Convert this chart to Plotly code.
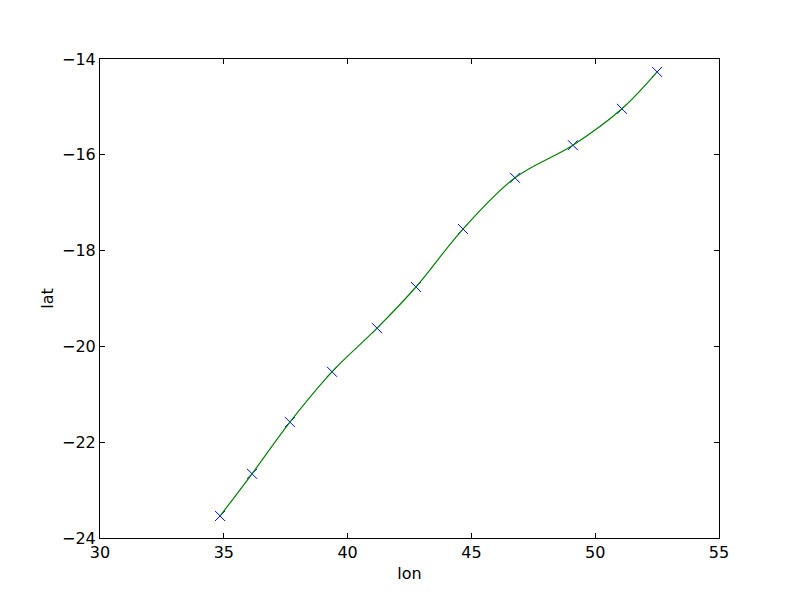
import plotly.graph_objects as go

lon = [34.85, 36.14, 37.67, 39.37, 41.19, 42.76, 44.66, 46.76, 49.10, 51.08, 52.50]
lat = [-23.54, -22.66, -21.58, -20.53, -19.62, -18.76, -17.55, -16.48, -15.80, -15.04, -14.27]
x_ticks = [30, 35, 40, 45, 50, 55]
y_ticks = [-24, -22, -20, -18, -16, -14]

fig = go.Figure()
fig.add_trace(go.Scatter(x=lon, y=lat, mode="markers",
                         marker=dict(symbol="x-thin", size=10, line=dict(color="#0000ff", width=1)),
                         showlegend=False))
fig.add_trace(go.Scatter(x=lon, y=lat, mode="lines", line=dict(color="#008000", width=1.2, shape="spline", smoothing=1.0),
                         showlegend=False))

axis_common = dict(showgrid=False, zeroline=False, ticks="inside", ticklen=5, tickcolor="black",
                   mirror="ticks", showline=True, linecolor="black", linewidth=1,
                   tickfont=dict(family="DejaVu Sans", size=16, color="black"))
fig.update_xaxes(range=[30, 55], tickvals=x_ticks, ticktext=[str(v) for v in x_ticks],
                 title=dict(text="lon", font=dict(family="DejaVu Sans", size=16, color="black"), standoff=6),
                 **axis_common)
fig.update_yaxes(range=[-24, -14], tickvals=y_ticks, ticktext=["\u2212" + str(-v) for v in y_ticks],
                 title=dict(text="lat", font=dict(family="DejaVu Sans", size=16, color="black"), standoff=4),
                 **axis_common)
fig.update_layout(width=792, height=592, margin=dict(l=92, r=81, t=51, b=62),
                  plot_bgcolor="white", paper_bgcolor="white")
fig.write_html("out.html")
